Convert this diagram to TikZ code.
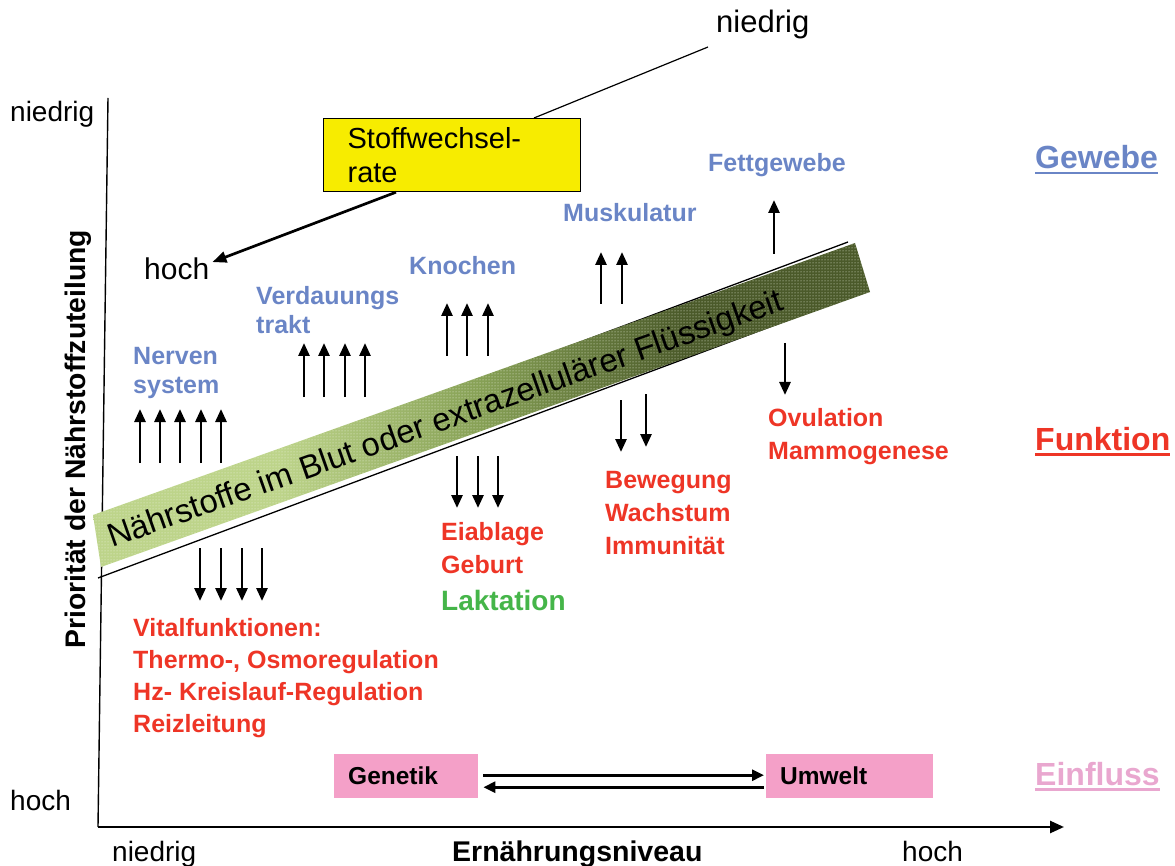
\documentclass[tikz,border=0pt]{standalone}
\usepackage{fontspec}
\setmainfont{Liberation Sans}
\usetikzlibrary{arrows.meta,patterns}
\definecolor{gblue}{HTML}{6A85C6}
\definecolor{fred}{HTML}{EE3526}
\definecolor{lgreen}{HTML}{45B549}
\definecolor{epink}{HTML}{E9A7CF}
\definecolor{boxpink}{HTML}{F4A0C8}
\definecolor{yel}{HTML}{F7EC00}
\definecolor{bandL}{HTML}{BDD48A}
\definecolor{bandM}{HTML}{86A055}
\definecolor{bandD}{HTML}{4B5A2A}
\pgfdeclarehorizontalshading{bandshade}{100bp}{color(0bp)=(bandL); color(37bp)=(bandL); color(50bp)=(bandM); color(63bp)=(bandD); color(100bp)=(bandD)}
\tikzset{
  tis/.style={text=gblue, font=\fontsize{25}{29.5}\selectfont\bfseries, anchor=north west, align=left, inner sep=0pt},
  fun/.style={text=fred, font=\fontsize{25}{33}\selectfont\bfseries, anchor=north west, align=left, inner sep=0pt},
  axtext/.style={font=\fontsize{28}{32}\selectfont, anchor=base west, inner sep=0pt},
  head/.style={font=\fontsize{32}{36}\selectfont\bfseries, anchor=base west, inner sep=0pt},
  vararrow/.style={line width=2.7pt, -{Triangle[length=13pt,width=11pt]}},
  infl/.style={fill=boxpink, minimum height=44pt, inner xsep=14pt, align=left, anchor=north west, font=\fontsize{24.5}{28}\selectfont\bfseries},
}
\begin{document}
\begin{tikzpicture}[x=1pt,y=-1pt]
\useasboundingbox (0,0) rectangle (1175,866);

% axes
\coordinate (orig) at (98,827);
\coordinate (ytop) at (108,98);
\coordinate (xend) at (1064,827);
\draw[line width=1.4pt] (orig) -- (ytop);
\draw[line width=2.6pt, -{Triangle[length=14pt,width=12pt]}] (orig) -- (xend);

% lines beside the band
\coordinate (lbA) at (98,578);
\coordinate (lbB) at (866,291);
\coordinate (ltA) at (100,521.5);
\coordinate (ltB) at (848,242);
\draw[line width=1.3pt] (lbA) -- (lbB);
\draw[line width=1.3pt] (ltA) -- (ltB);

% band
\shade[shading=bandshade] (93,515) -- (855,243) -- (870,292) -- (101,567) -- cycle;
\fill[pattern=dots, pattern color=white!75!bandL] (93,515) -- (855,243) -- (870,292) -- (101,567) -- cycle;
\node (bandtxt) [rotate=19.5, anchor=base west, font=\fontsize{32.8}{36}\selectfont, inner sep=0pt] at (112,548) {Nährstoffe im Blut oder extrazellulärer Flüssigkeit};

% axis texts
\node (nietop) [axtext, font=\fontsize{31}{34}\selectfont] at (716,33) {niedrig};
\node (nieleft) [axtext] at (10,122) {niedrig};
\node (hochmid) [axtext, font=\fontsize{30}{34}\selectfont] at (144,280) {hoch};
\node (hochleft) [axtext] at (10,810) {hoch};
\node (niebot) [axtext] at (112,861) {niedrig};
\node (ern) [axtext, font=\fontsize{28.5}{30}\selectfont\bfseries] at (452,861) {Ernährungsniveau};
\node (hochbot) [axtext] at (902,861) {hoch};
\node (ylab) [rotate=90, anchor=base, font=\fontsize{28.3}{30}\selectfont\bfseries, inner sep=0pt] at (85,439) {Priorität der Nährstoffzuteilung};

% Stoffwechselrate box
\node (sw) [draw, line width=1.2pt, fill=yel, minimum width=257pt, minimum height=73pt, text width=209pt, inner xsep=24pt, inner ysep=2pt, align=left, font=\fontsize{29}{34}\selectfont, anchor=north west] at (323,118) {Stoffwechsel-\\rate};
\coordinate (nend) at (708,47);
\draw[line width=1.2pt] ([xshift=211pt]sw.north west) -- (nend);
\draw[line width=2.7pt, -{Triangle[length=14pt,width=11pt]}] ([xshift=73pt]sw.south west) -- ([xshift=3pt,yshift=-4pt]hochmid.north east);

% tissue labels
\node (fett) [tis] at (708,153) {Fettgewebe};
\node (musk) [tis] at (563,203) {Muskulatur};
\node (kno) [tis] at (409,256) {Knochen};
\node (verd) [tis] at (256,286) {Verdauungs\\trakt};
\node (nerv) [tis] at (133,347) {Nerven\\system};

% function labels
\node (ovu) [fun] at (768,408) {Ovulation\\Mammogenese};
\node (bew) [fun] at (605,471) {Bewegung\\Wachstum\\Immunität};
\node (eia) [fun] at (441,522) {Eiablage\\Geburt};
\node (lak) [fun, text=lgreen, font=\fontsize{28}{32}\selectfont\bfseries] at (441,590.5) {Laktation};
\node (vit) [fun, font=\fontsize{25}{32}\selectfont\bfseries] at (133,618) {Vitalfunktionen:\\Thermo-, Osmoregulation\\Hz- Kreislauf-Regulation\\Reizleitung};

% headers
\node (gew) [head, text=gblue] at (1035,168.5) {Gewebe};
\draw[gblue, line width=2.5pt] ([yshift=-4.5pt]gew.base west) -- ([yshift=-4.5pt]gew.base east);
\node (fkt) [head, text=fred] at (1035,450) {Funktion};
\draw[fred, line width=2.5pt] ([yshift=-4.5pt]fkt.base west) -- ([yshift=-4.5pt]fkt.base east);
\node (einf) [head, text=epink] at (1035,785) {Einfluss};
\draw[epink, line width=2.5pt] ([yshift=-4.5pt]einf.base west) -- ([yshift=-4.5pt]einf.base east);

% up and down arrows
\foreach \x/\ya/\yb [count=\i] in {140/463/409,160/463/409,180/463/409,201/463/409,221/463/409,
  304/397/343,324/397/343,345/397/343,365/397/343,
  447/356/303,467/356/303,488/356/303,
  601/304/252,622/304/252,
  774/254/200,
  200/548/601,221/548/601,242/548/601,262/548/601,
  457/456/508,478/456/508,498/456/508,
  621/400/452,646/394/447,
  785/343/395}{
  \coordinate (pa\i) at (\x,\ya);
  \coordinate (pb\i) at (\x,\yb);
  \draw[vararrow] (pa\i) -- (pb\i);
}

% influence boxes
\node (gen) [infl, minimum width=144pt, text width=116pt] at (334,754) {Genetik};
\node (umw) [infl, minimum width=167pt, text width=139pt] at (766,754) {Umwelt};
\draw[line width=2.8pt, -{Triangle[length=12pt,width=11pt]}] ([xshift=5pt,yshift=1pt]gen.east) -- ([xshift=-2pt,yshift=1pt]umw.west);
\draw[line width=2.8pt, -{Triangle[length=12pt,width=11pt]}] ([xshift=-2pt,yshift=-11pt]umw.west) -- ([xshift=5pt,yshift=-11pt]gen.east);
\end{tikzpicture}
\end{document}
